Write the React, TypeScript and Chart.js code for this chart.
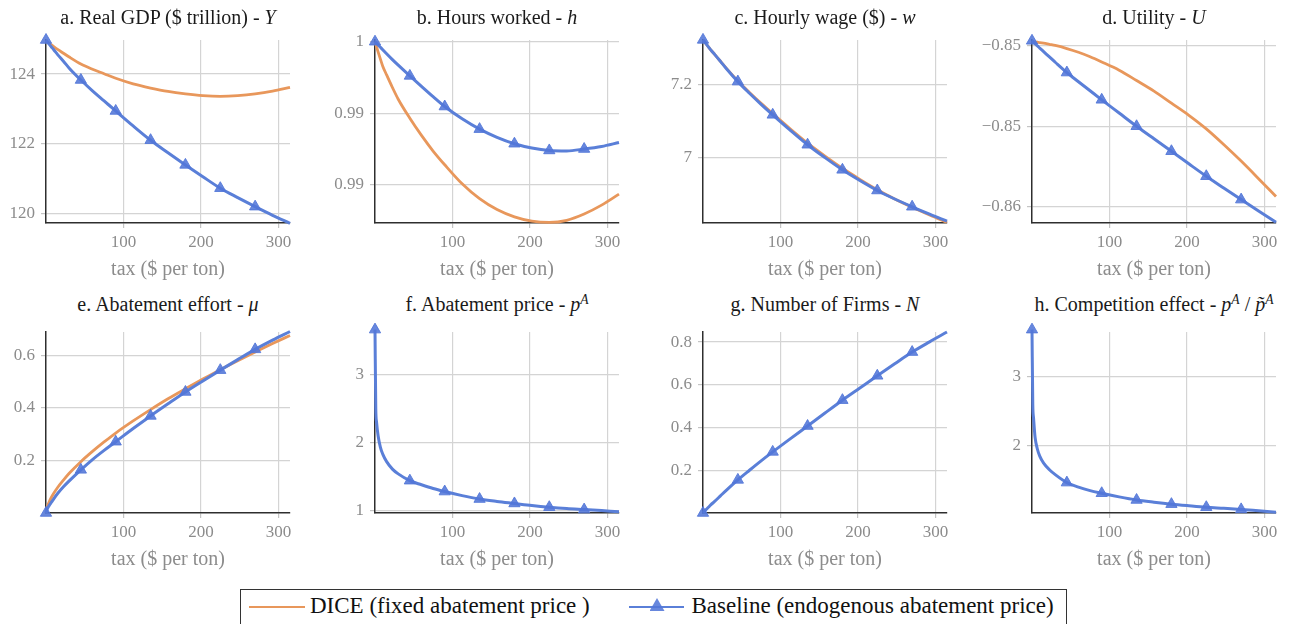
import React, { useEffect, useRef } from "react";
import { Chart, registerables } from "chart.js";
Chart.register(...registerables);

// ---------- data ----------
const taxGrid = [0, 1, 2, 4, 7, 10, 15, 22.5, 30, 45, 60, 75, 90, 112.5, 135, 157.5, 180, 202.5, 225, 247.5, 270, 292.5, 315];
const markerTax = [0, 45, 90, 135, 180, 225, 270];
const xTicks = [100, 200, 300];

const gdpBaseline = [124.98, 124.95, 124.92, 124.86, 124.78, 124.70, 124.56, 124.37, 124.17, 123.83, 123.52, 123.23, 122.94, 122.51, 122.10, 121.74, 121.39, 121.05, 120.72, 120.45, 120.19, 119.94, 119.71];
const gdpDice = [124.95, 124.93, 124.92, 124.89, 124.84, 124.79, 124.71, 124.60, 124.49, 124.29, 124.14, 124.01, 123.88, 123.72, 123.60, 123.50, 123.43, 123.38, 123.36, 123.38, 123.43, 123.51, 123.62];

const hoursBaseline = [1.0, 0.99994, 0.99989, 0.99978, 0.99961, 0.99944, 0.99916, 0.99875, 0.99836, 0.99761, 0.99688, 0.99616, 0.99547, 0.99461, 0.99389, 0.99332, 0.99287, 0.99257, 0.9924, 0.99237, 0.9925, 0.99268, 0.99296];
const hoursDice = [1.0, 0.99982, 0.99964, 0.99929, 0.99878, 0.99829, 0.99768, 0.9968, 0.99598, 0.99465, 0.99345, 0.99236, 0.9914, 0.99007, 0.98903, 0.98827, 0.98776, 0.98746, 0.98737, 0.98752, 0.98796, 0.98858, 0.98935];

const wageBaseline = [7.32, 7.3173, 7.3146, 7.3092, 7.3011, 7.293, 7.2808, 7.2618, 7.2425, 7.207, 7.1755, 7.1455, 7.117, 7.0755, 7.036, 7.001, 6.968, 6.939, 6.912, 6.889, 6.868, 6.848, 6.829];
const wageDice = [7.32, 7.3173, 7.3146, 7.3092, 7.3012, 7.2932, 7.281, 7.2622, 7.2437, 7.2088, 7.1778, 7.1483, 7.1203, 7.0793, 7.0403, 7.0053, 6.9723, 6.9423, 6.9143, 6.8893, 6.8668, 6.8458, 6.8258];

const utilBaseline = [-0.8497, -0.84975, -0.84979, -0.84988, -0.85002, -0.85015, -0.85037, -0.8507, -0.85103, -0.85167, -0.85224, -0.8528, -0.85336, -0.85418, -0.855, -0.85578, -0.85655, -0.85733, -0.8581, -0.85883, -0.85955, -0.86026, -0.86096];
const utilDice = [-0.84975, -0.84976, -0.84976, -0.84977, -0.84979, -0.84981, -0.84985, -0.84992, -0.84999, -0.85018, -0.85041, -0.85069, -0.85101, -0.85152, -0.85216, -0.85282, -0.85357, -0.85432, -0.85516, -0.85613, -0.85716, -0.85825, -0.85936];

const abateBaseline = [0, 0.012, 0.018, 0.028, 0.041, 0.054, 0.074, 0.0995, 0.122, 0.164, 0.203, 0.238, 0.271, 0.321, 0.369, 0.415, 0.46, 0.502, 0.543, 0.583, 0.622, 0.657, 0.69];
const abateDice = [0, 0.017, 0.027, 0.042, 0.06, 0.075, 0.097, 0.125, 0.151, 0.195, 0.234, 0.27, 0.304, 0.35, 0.393, 0.434, 0.472, 0.509, 0.545, 0.579, 0.612, 0.644, 0.675];

const priceBaseline = [3.66, 2.5, 2.3, 2.1, 1.93, 1.83, 1.72, 1.61, 1.54, 1.44, 1.38, 1.325, 1.28, 1.22, 1.17, 1.135, 1.105, 1.075, 1.05, 1.03, 1.015, 1.0, 0.985];

const firmsBaseline = [0, 0.004, 0.008, 0.016, 0.027, 0.038, 0.054, 0.08, 0.106, 0.155, 0.2, 0.244, 0.286, 0.347, 0.407, 0.468, 0.528, 0.585, 0.642, 0.698, 0.753, 0.801, 0.847];

const compBaseline = [3.67, 2.6, 2.4, 2.12, 1.95, 1.85, 1.75, 1.655, 1.585, 1.47, 1.405, 1.355, 1.317, 1.265, 1.22, 1.188, 1.16, 1.137, 1.116, 1.101, 1.085, 1.065, 1.045];

const yTicksA = [120, 122, 124];
const yLabelsA = ["120", "122", "124"];
const yTicksB = [0.99, 0.995, 1];
const yLabelsB = ["0.99", "0.99", "1"];
const yTicksC = [7, 7.2];
const yLabelsC = ["7", "7.2"];
const yTicksD = [-0.86, -0.855, -0.85];
const yLabelsD = ["\u22120.86", "\u22120.85", "\u22120.85"];
const yTicksE = [0.2, 0.4, 0.6];
const yLabelsE = ["0.2", "0.4", "0.6"];
const yTicksF = [1, 2, 3];
const yLabelsF = ["1", "2", "3"];
const yTicksG = [0.2, 0.4, 0.6, 0.8];
const yLabelsG = ["0.2", "0.4", "0.6", "0.8"];
const yTicksH = [2, 3];
const yLabelsH = ["2", "3"];

const legendDice = "DICE (fixed abatement price )";
const legendBaseline = "Baseline (endogenous abatement price)";
const xTitle = "tax ($ per ton)";

// ---------- styling ----------
const ORANGE = "#e8975b";
const BLUE = "#5a7fd8";
const BLUE_MARK = "rgba(82,118,216,0.88)";
const GRAY = "#8c8c8c";
const SERIF = "'Liberation Serif', 'Times New Roman', serif";

const COL_LEFT = [46, 375, 703, 1032];
const PLOT_W = 244;
const ROW_TOP = [40, 332];
const ROW_H = [183, 181];
const Y_W = 60;
const X_H = 59;
const PAD_T = 12;
const PAD_R = 16;

type Panel = {
  col: number;
  row: number;
  base: number[];
  dice?: number[];
  yMin: number;
  yMax: number;
  yTicks: number[];
  yLabels: string[];
};

const panels: Panel[] = [
  { col: 0, row: 0, base: gdpBaseline, dice: gdpDice, yMin: 119.72, yMax: 124.98, yTicks: yTicksA, yLabels: yLabelsA },
  { col: 1, row: 0, base: hoursBaseline, dice: hoursDice, yMin: 0.98733, yMax: 1.00012, yTicks: yTicksB, yLabels: yLabelsB },
  { col: 2, row: 0, base: wageBaseline, dice: wageDice, yMin: 6.824, yMax: 7.3197, yTicks: yTicksC, yLabels: yLabelsC },
  { col: 3, row: 0, base: utilBaseline, dice: utilDice, yMin: -0.861, yMax: -0.84965, yTicks: yTicksD, yLabels: yLabelsD },
  { col: 0, row: 1, base: abateBaseline, dice: abateDice, yMin: 0, yMax: 0.688, yTicks: yTicksE, yLabels: yLabelsE },
  { col: 1, row: 1, base: priceBaseline, yMin: 0.965, yMax: 3.625, yTicks: yTicksF, yLabels: yLabelsF },
  { col: 2, row: 1, base: firmsBaseline, yMin: 0, yMax: 0.847, yTicks: yTicksG, yLabels: yLabelsG },
  { col: 3, row: 1, base: compBaseline, yMin: 1.033, yMax: 3.636, yTicks: yTicksH, yLabels: yLabelsH },
];

const titles: React.ReactNode[] = [
  <>a. Real GDP ($ trillion) - <i>Y</i></>,
  <>b. Hours worked - <i>h</i></>,
  <>c. Hourly wage ($) - <i>w</i></>,
  <>d. Utility - <i>U</i></>,
  <>e. Abatement effort - <i>μ</i></>,
  <>f. Abatement price - <i>p<sup style={{ fontSize: "0.68em", verticalAlign: "0.55em", lineHeight: 0 }}>A</sup></i></>,
  <>g. Number of Firms - <i>N</i></>,
  <>h. Competition effect - <i>p<sup style={{ fontSize: "0.68em", verticalAlign: "0.55em", lineHeight: 0 }}>A</sup></i> / <i>p&#771;<sup style={{ fontSize: "0.68em", verticalAlign: "0.55em", lineHeight: 0 }}>A</sup></i></>,
];

function buildConfig(p: Panel): any {
  const datasets: any[] = [
    {
      label: legendBaseline,
      data: taxGrid.map((x, i) => ({ x, y: p.base[i] })),
      borderColor: BLUE,
      borderWidth: 3,
      pointStyle: "triangle",
      pointRadius: (ctx: any) => (markerTax.indexOf(taxGrid[ctx.dataIndex]) >= 0 ? 6.5 : 0),
      pointBackgroundColor: BLUE_MARK,
      pointBorderColor: BLUE_MARK,
      pointBorderWidth: 1,
      cubicInterpolationMode: "monotone",
      fill: false,
      clip: false,
    },
  ];
  if (p.dice) {
    datasets.push({
      label: legendDice,
      data: taxGrid.map((x, i) => ({ x, y: p.dice![i] })),
      borderColor: ORANGE,
      borderWidth: 2.8,
      pointRadius: 0,
      cubicInterpolationMode: "monotone",
      fill: false,
      clip: false,
    });
  }
  const tickFont = { family: SERIF, size: 17 };
  const grid = { color: "#d4d4d4", lineWidth: 1.2, tickLength: 5, tickColor: "#c4c4c4", drawTicks: true };
  const border = { display: true, color: "#2e2e2e", width: 1.5 };
  return {
    type: "line",
    data: { datasets },
    options: {
      responsive: false,
      animation: false,
      events: [],
      layout: { padding: { top: PAD_T, right: PAD_R, left: 0, bottom: 0 } },
      plugins: { legend: { display: false }, tooltip: { enabled: false }, title: { display: false } },
      scales: {
        x: {
          type: "linear",
          min: 0,
          max: 315,
          afterBuildTicks: (s: any) => {
            s.ticks = xTicks.map((v) => ({ value: v }));
          },
          afterFit: (s: any) => {
            s.height = X_H;
            s.paddingLeft = 0;
            s.paddingRight = 0;
          },
          grid,
          border,
          ticks: { font: tickFont, color: GRAY, padding: 4, maxRotation: 0, autoSkip: false, callback: (v: any) => String(v) },
          title: { display: true, text: xTitle, font: { family: SERIF, size: 20 }, color: GRAY, padding: 0 },
        },
        y: {
          type: "linear",
          min: p.yMin,
          max: p.yMax,
          afterBuildTicks: (s: any) => {
            s.ticks = p.yTicks.map((v) => ({ value: v }));
          },
          afterFit: (s: any) => {
            s.width = Y_W;
            s.paddingTop = 0;
            s.paddingBottom = 0;
          },
          grid,
          border,
          ticks: { font: tickFont, color: GRAY, padding: 6, autoSkip: false, callback: (_v: any, i: number) => p.yLabels[i] },
        },
      },
    },
  };
}

function PanelChart({ p }: { p: Panel }) {
  const ref = useRef<HTMLCanvasElement | null>(null);
  const w = Y_W + PLOT_W + PAD_R;
  const h = PAD_T + ROW_H[p.row] + X_H;
  useEffect(() => {
    if (!ref.current) return;
    const chart = new Chart(ref.current, buildConfig(p));
    return () => chart.destroy();
  }, [p]);
  return (
    <canvas
      ref={ref}
      width={w}
      height={h}
      style={{ position: "absolute", left: COL_LEFT[p.col] - Y_W, top: ROW_TOP[p.row] - PAD_T, width: w, height: h }}
    />
  );
}

const TITLE_TOP = [5, 292];

export default function App() {
  return (
    <div style={{ position: "absolute", left: 0, top: 0, width: 1289, height: 624, overflow: "hidden", background: "#fff" }}>
      {panels.map((p, i) => (
        <PanelChart key={i} p={p} />
      ))}
      {panels.map((p, i) => (
        <div
          key={"t" + i}
          style={{
            position: "absolute",
            left: COL_LEFT[p.col] + PLOT_W / 2 - 160,
            width: 320,
            top: TITLE_TOP[p.row],
            textAlign: "center",
            fontFamily: SERIF,
            fontSize: 20,
            lineHeight: "24px",
            color: "#1a1a1a",
            whiteSpace: "nowrap",
          }}
        >
          {titles[i]}
        </div>
      ))}
      <div
        style={{
          position: "absolute",
          left: 240,
          top: 589,
          width: 827,
          height: 60,
          border: "1px solid #333",
          boxSizing: "border-box",
          fontFamily: SERIF,
          fontSize: 23,
          color: "#111",
        }}
      >
        <div style={{ position: "absolute", left: 8, top: 15.5, width: 56, height: 2.6, background: ORANGE }} />
        <div style={{ position: "absolute", left: 69, top: 3, lineHeight: "26px", whiteSpace: "nowrap" }}>{legendDice}</div>
        <div style={{ position: "absolute", left: 388, top: 15.5, width: 55, height: 2.8, background: BLUE }} />
        <div
          style={{
            position: "absolute",
            left: 408.5,
            top: 8,
            width: 15,
            height: 13,
            background: BLUE_MARK,
            clipPath: "polygon(50% 0%, 100% 100%, 0% 100%)",
          }}
        />
        <div style={{ position: "absolute", left: 450.5, top: 3, lineHeight: "26px", whiteSpace: "nowrap" }}>{legendBaseline}</div>
      </div>
    </div>
  );
}
